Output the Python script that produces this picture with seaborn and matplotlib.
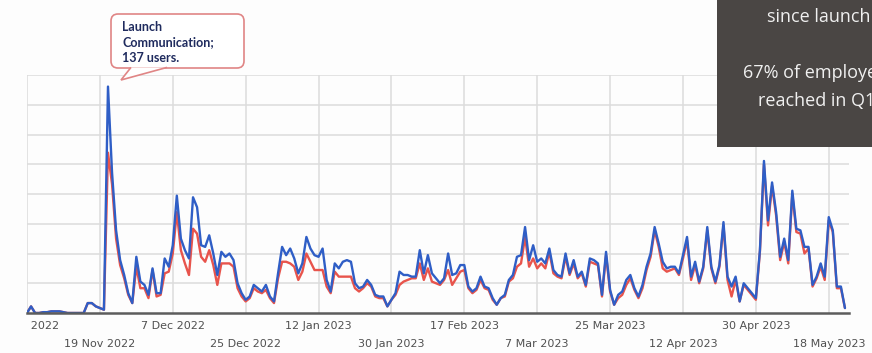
import matplotlib
matplotlib.use("Agg")
import matplotlib.pyplot as plt
import seaborn as sns
import pandas as pd
from matplotlib.patches import FancyBboxPatch, Polygon, Rectangle
from matplotlib.transforms import Bbox

# daily active users (1 Nov 2022 onwards)
start_date = "2022-11-01"
blue_users = [
    0, 4, 0, 0, 0.5, 0.5, 1, 1, 1, 0.5,
    0, 0, 0, 0, 0, 6, 6, 4, 3, 2,
    137, 85, 50, 32, 23, 12, 6, 34, 19, 17,
    11, 27, 12, 12, 33, 28, 41, 71, 45, 38,
    33, 70, 64, 41, 40, 47, 36, 23, 37, 34,
    36, 32, 18, 12, 8, 10, 17, 15, 13, 17,
    10, 7, 24, 40, 35, 39, 33, 24, 30, 46,
    39, 35, 34, 39, 20, 13, 30, 27, 31, 32,
    31, 18, 15, 16, 20, 17, 11, 10, 10, 4,
    8, 12, 25, 23, 23, 22, 22, 38, 24, 35,
    24, 21, 18, 21, 36, 23, 24, 29, 29, 16,
    13, 15, 22, 16, 15, 9, 5, 9, 11, 20,
    23, 34, 35, 52, 32, 41, 31, 33, 30, 39,
    26, 23, 22, 36, 24, 32, 22, 25, 17, 33,
    32, 30, 11, 37, 14, 5, 11, 13, 20, 23,
    15, 10, 17, 28, 36, 52, 42, 31, 27, 28,
    28, 24, 35, 46, 22, 31, 19, 28, 52, 28,
    19, 29, 55, 22, 16, 22, 7, 18, 15, 12,
    9, 38, 92, 56, 79, 61, 34, 45, 32, 74,
    51, 50, 40, 40, 17, 22, 30, 22, 58, 50,
    16, 16, 3,
]
red_users = [
    0, 4, 0, 0, 0.5, 0.5, 1, 1, 1, 0.5,
    0, 0, 0, 0, 0, 6, 6, 4, 3, 2,
    97, 78, 45, 29, 21, 11, 6, 28, 15, 15,
    9, 26, 10, 11, 24, 25, 36, 61, 38, 30,
    23, 51, 48, 34, 31, 38, 29, 17, 30, 30,
    30, 28, 15, 10, 7, 9, 15, 13, 12, 14,
    9, 6, 21, 31, 31, 30, 28, 20, 25, 36,
    31, 26, 26, 26, 16, 12, 25, 22, 22, 22,
    22, 15, 13, 15, 18, 16, 10, 9, 9, 4,
    8, 11, 17, 19, 20, 21, 21, 30, 20, 27,
    19, 18, 17, 20, 26, 17, 21, 25, 26, 15,
    12, 14, 20, 15, 14, 8, 5, 9, 10, 19,
    21, 28, 30, 46, 28, 33, 27, 30, 27, 37,
    24, 22, 21, 34, 23, 30, 21, 24, 16, 31,
    30, 29, 10, 35, 13, 5, 9, 11, 17, 21,
    14, 9, 15, 26, 34, 50, 40, 27, 25, 26,
    27, 23, 33, 44, 20, 29, 18, 27, 50, 27,
    18, 28, 53, 20, 10, 20, 7, 17, 14, 11,
    8, 37, 90, 53, 77, 59, 32, 43, 30, 72,
    49, 48, 36, 39, 16, 21, 28, 20, 56, 49,
    15, 15, 3,
]
tick_start, tick_end, tick_step = "2022-11-01", "2023-05-18", "18D"
callout_lines = ["Launch", "Communication;", "137 users."]
box_lines = ["since launch", "", "67% of employees", "reached in Q1."]

dates = pd.date_range(start_date, periods=len(blue_users), freq="D")
df = pd.concat([
    pd.DataFrame({"date": dates, "users": red_users, "series": "red"}),
    pd.DataFrame({"date": dates, "users": blue_users, "series": "blue"}),
], ignore_index=True)

sns.set_theme(style="white")
plt.rcParams["font.family"] = ["DejaVu Sans"]

W, H = 872, 353
BG = "#fdfdfd"
fig = plt.figure(figsize=(W / 100, H / 100), dpi=100, facecolor=BG)
ax = fig.add_axes([27 / W, 40 / H, 822 / W, 238 / H])
ax.set_facecolor(BG)

sns.lineplot(data=df, x="date", y="users", hue="series",
             palette={"red": "#e8544c", "blue": "#2f5ec6"},
             linewidth=1.7, legend=False, ax=ax)

ax.set_xlim(dates[0], dates[0] + pd.Timedelta(days=203))
ax.set_ylim(0, 144)
ax.set_yticks(range(18, 145, 18))
ax.set_yticklabels([])
ax.set_xlabel("")
ax.set_ylabel("")

# tick labels alternate between two rows
ticks = pd.date_range(tick_start, tick_end, freq=tick_step)
labels = [f"{d.day} {d:%b %Y}" for d in ticks]
ax.set_xticks(ticks[::2])
ax.set_xticklabels(labels[::2])
ax.set_xticks(ticks[1::2], minor=True)
ax.set_xticklabels(labels[1::2], minor=True)
ax.tick_params(axis="x", which="major", length=0, pad=6, labelsize=8, labelcolor="#505050")
ax.tick_params(axis="x", which="minor", length=0, pad=19, labelsize=8, labelcolor="#505050")
ax.tick_params(axis="y", length=0)

# the first label is cut at the left edge in the original screenshot
first = ax.get_xticklabels()[0]
first.set_clip_box(Bbox.from_extents(29, 0, W, H))
first.set_clip_on(True)

ax.grid(True, which="both", color="#dcdcdc", linewidth=1.1)
sns.despine(ax=ax, left=True)
ax.spines["bottom"].set_color("#5c5c5c")
ax.spines["bottom"].set_linewidth(1.8)


def px(x, y):
    return (x / 100, (H - y) / 100)


# callout bubble for the launch spike
edge = "#e08585"
bubble = FancyBboxPatch(px(111, 68), 133 / 100, 54 / 100,
                        boxstyle="round,pad=0,rounding_size=0.07",
                        fc="white", ec=edge, lw=1.2,
                        transform=fig.dpi_scale_trans, zorder=5)
fig.add_artist(bubble)
tail = Polygon([px(131, 67.4), px(121, 80), px(167, 67.4)], closed=False,
               fc="white", ec=edge, lw=1.2,
               transform=fig.dpi_scale_trans, zorder=6)
fig.add_artist(tail)
for line, base in zip(callout_lines, [31, 46.5, 62]):
    fig.text(122 / W, 1 - base / H, line, ha="left", va="baseline",
             fontsize=9, fontweight="bold", family=["Lato", "DejaVu Sans"],
             color="#1f2b5e", zorder=7)

# dark info box, cut by the right and top edges
dark = Rectangle(px(717, 147), 2.0, 2.0, fc="#4a4644", ec="none",
                 transform=fig.dpi_scale_trans, zorder=5)
fig.add_artist(dark)
for line, base in zip(box_lines, [22, 50, 78, 106]):
    if line:
        fig.text(819 / W, 1 - base / H, line, ha="center", va="baseline",
                 fontsize=13, family=["Open Sans", "DejaVu Sans"],
                 color="#f0f0f0", zorder=7)

fig.savefig("out.png", dpi=100, facecolor=BG)
